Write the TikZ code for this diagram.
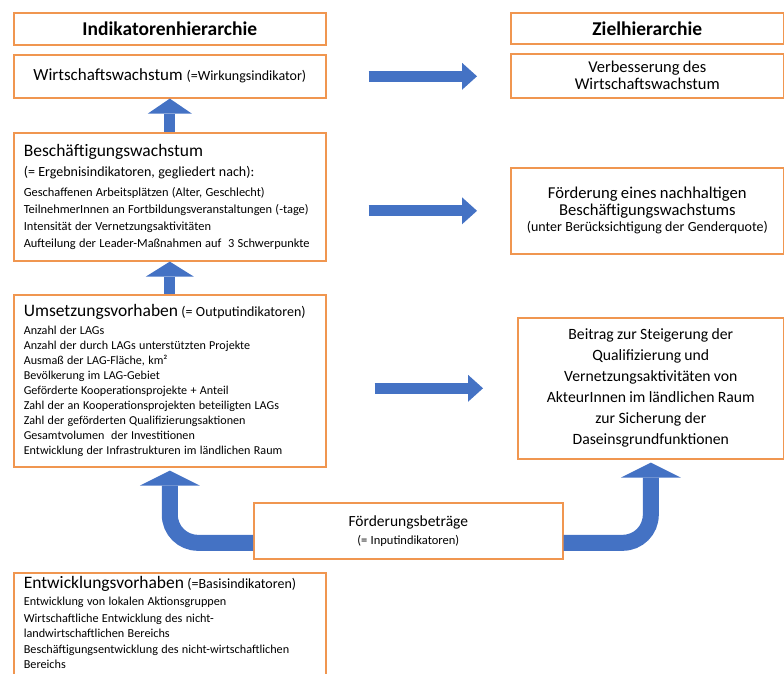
\documentclass[tikz,border=0pt]{standalone}
\usepackage{fontspec}
\setmainfont{Carlito}
\usetikzlibrary{arrows.meta}
\definecolor{kastenrand}{RGB}{240,150,80}
\definecolor{pfeilblau}{RGB}{68,114,196}
\begin{document}
\begin{tikzpicture}[x=1pt, y=-1pt,
   kasten/.style={draw=kastenrand, line width=1.6pt, fill=white, anchor=north west, inner sep=0pt},
   links/.style={kasten, minimum width=312, text width=292, inner xsep=10pt, align=left},
   rechts/.style={kasten, text width=263, inner xsep=5pt, align=center},
   fatpfeil/.style={draw=pfeilblau, line width=11pt, -{Triangle[width=#1,length=15pt,line width=0pt]}},
   fatpfeil/.default=27pt]
\useasboundingbox (0,0) rectangle (784,674);
\node[kasten, minimum width=312, minimum height=32] (kopfInd) at (13,12) {\bfseries\fontsize{19.5}{22}\selectfont Indikatorenhierarchie};
\node[kasten, minimum width=312, minimum height=43] (wirkung) at (13,54)
  {\fontsize{17}{20}\selectfont Wirtschaftswachstum \fontsize{14}{17}\selectfont(=Wirkungsindikator)};
\node[links, minimum height=128] (beschaeft) at (13,132) {\fontsize{17.5}{20}\selectfont Beschäftigungswachstum\\
  \fontsize{14}{20}\selectfont(= Ergebnisindikatoren, gegliedert nach):\\[3pt]
  \fontsize{12.4}{17}\selectfont Geschaffenen Arbeitsplätzen (Alter, Geschlecht)\\
  TeilnehmerInnen an Fortbildungsveranstaltungen (-tage)\\
  Intensität der Vernetzungsaktivitäten\\
  Aufteilung der Leader-Maßnahmen auf~ 3 Schwerpunkte\par};
\node[links, minimum height=172] (umsetzung) at (13,294) {\fontsize{17.5}{20}\selectfont Umsetzungsvorhaben
  \fontsize{14}{20}\selectfont(= Outputindikatoren)\\[3pt]
  \fontsize{12.1}{15}\selectfont Anzahl der LAGs\\
  Anzahl der durch LAGs unterstützten Projekte\\
  Ausmaß der LAG-Fläche, km²\\
  Bevölkerung im LAG-Gebiet\\
  Geförderte Kooperationsprojekte + Anteil\\
  Zahl der an Kooperationsprojekten beteiligten LAGs\\
  Zahl der geförderten Qualifizierungsaktionen\\
  Gesamtvolumen~ der Investitionen\\
  Entwicklung der Infrastrukturen im ländlichen Raum\par};
\node[links, inner ysep=4pt] (entwicklung) at (13,572) {\fontsize{17.5}{20}\selectfont Entwicklungsvorhaben
  \fontsize{14}{20}\selectfont(=Basisindikatoren)\\[2pt]
  \fontsize{12.2}{15}\selectfont Entwicklung von lokalen Aktionsgruppen\\[1.5pt]
  Wirtschaftliche Entwicklung des nicht-\\
  landwirtschaftlichen Bereichs\\[1.5pt]
  Beschäftigungsentwicklung des nicht-wirtschaftlichen\\
  Bereichs\\[6pt]
  \mbox{}\par};
\node[kasten, minimum width=273, minimum height=31] (kopfZiel) at (510,12) {\bfseries\fontsize{19.5}{22}\selectfont Zielhierarchie};
\node[rechts, minimum height=44] (zielWirt) at (510,53) {\fontsize{16.5}{17}\selectfont Verbesserung des\\Wirtschaftswachstum\par};
\node[rechts, minimum height=86] (zielBesch) at (510,167) {\fontsize{16.6}{17}\selectfont Förderung eines nachhaltigen\\
  Beschäftigungswachstums\\ \fontsize{14}{16}\selectfont(unter Berücksichtigung der Genderquote)\par};
\node[rechts, text width=256, minimum height=141] (zielBeitrag) at (517,317) {\fontsize{15.7}{21}\selectfont Beitrag zur Steigerung der\\
  Qualifizierung und\\ Vernetzungsaktivitäten von\\ AkteurInnen im ländlichen Raum\\ zur Sicherung der\\ Daseinsgrundfunktionen\par};
\node[rechts, text width=299, minimum height=56] (foerderung) at (253,502) {\fontsize{15.5}{18}\selectfont Förderungsbeträge\\
  \fontsize{12.5}{18}\selectfont(= Inputindikatoren)\par};
\draw[fatpfeil, shorten <=42pt, shorten >=33pt] (wirkung.east) -- (zielWirt.west |- wirkung.east);
\draw[fatpfeil, shorten <=42pt, shorten >=33pt] (beschaeft.east |- zielBesch.west) -- (zielBesch.west);
\draw[fatpfeil, shorten <=48pt, shorten >=34pt] (umsetzung.east |- zielBeitrag.west) -- (zielBeitrag.west);
\draw[fatpfeil=44pt] (beschaeft.north) -- (wirkung.south);
\draw[fatpfeil=48pt] (umsetzung.north) -- (beschaeft.south);
\draw[fatpfeil=60pt, line width=16pt, rounded corners=28pt, shorten >=3pt] ([yshift=-12pt]foerderung.west) -| (umsetzung.south);
\draw[fatpfeil=60pt, line width=16pt, rounded corners=28pt, shorten >=3pt] ([yshift=-12pt]foerderung.east) -| (zielBeitrag.south);
\end{tikzpicture}
\end{document}
